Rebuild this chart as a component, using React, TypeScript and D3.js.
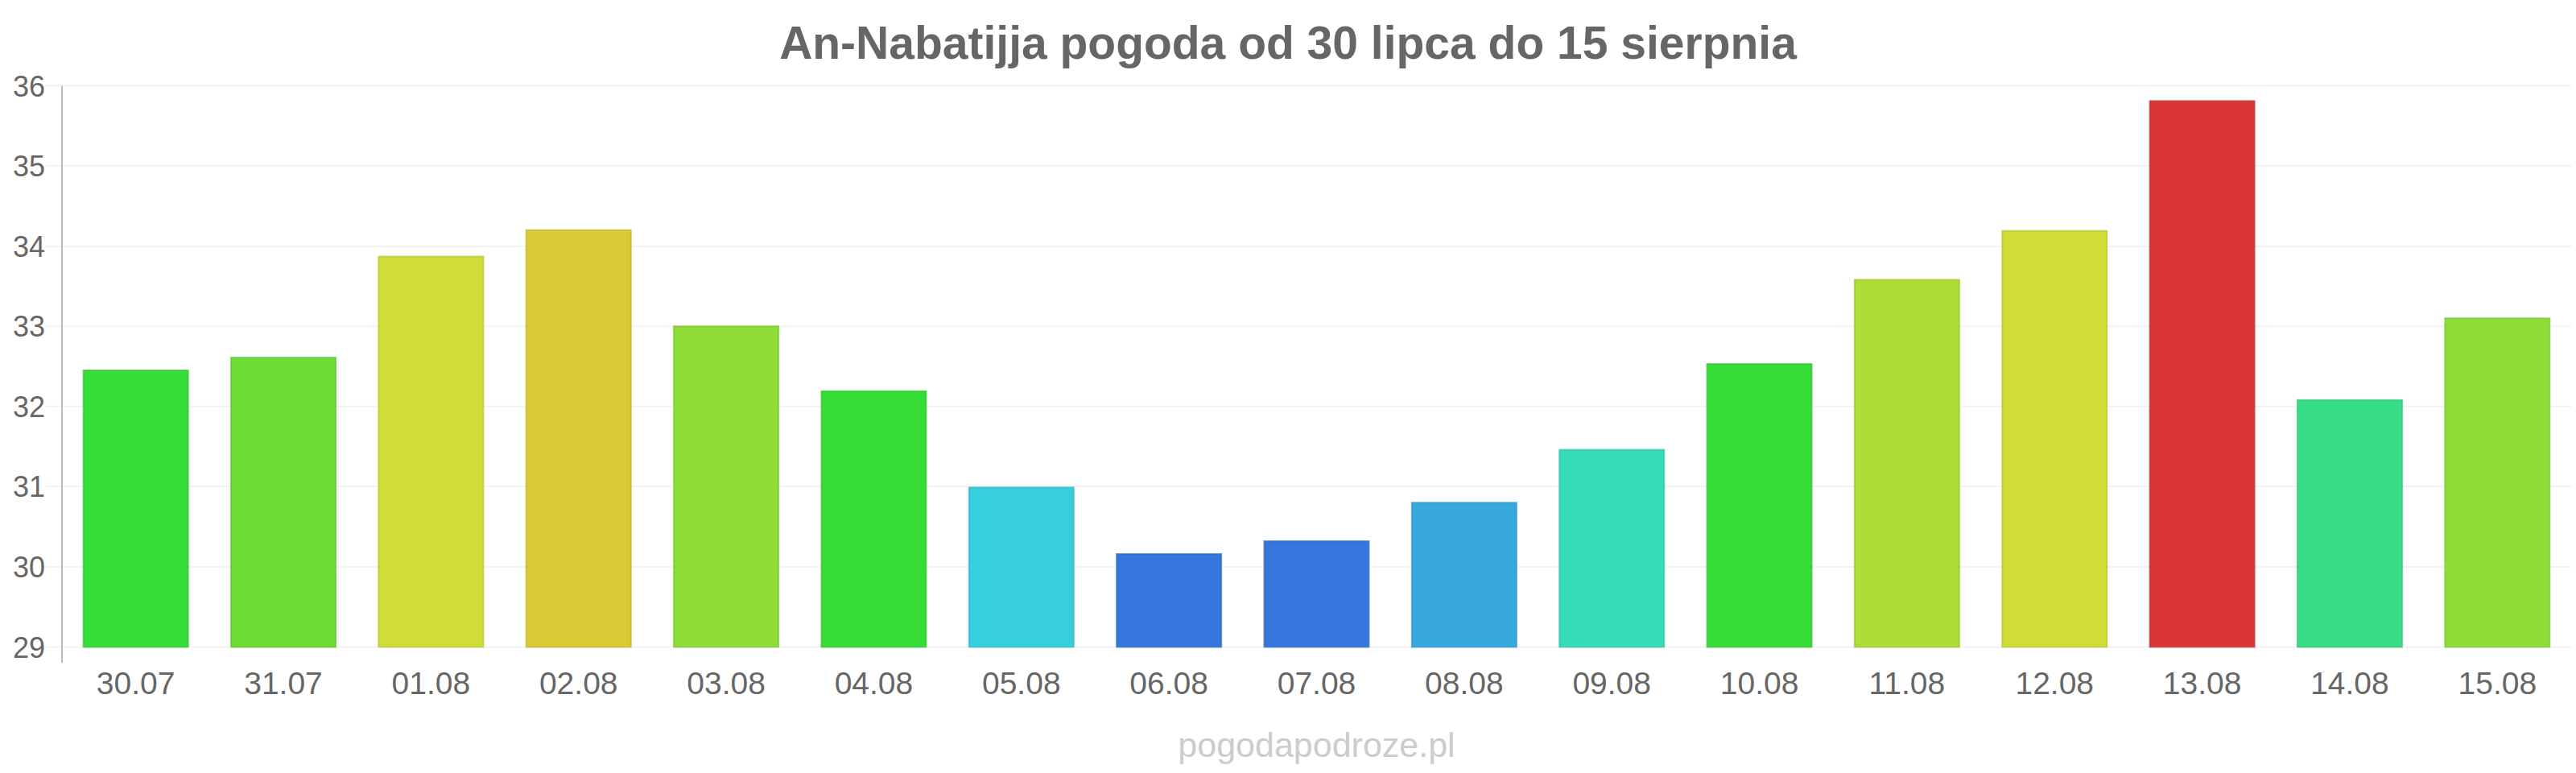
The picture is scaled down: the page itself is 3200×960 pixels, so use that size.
import { useEffect, useRef } from 'react';
import * as d3 from "d3";

const days = ["30.07", "31.07", "01.08", "02.08", "03.08", "04.08", "05.08", "06.08", "07.08", "08.08", "09.08", "10.08", "11.08", "12.08", "13.08", "14.08", "15.08"];
const temps = [32.46, 32.62, 33.88, 34.21, 33.01, 32.2, 31.0, 30.17, 30.33, 30.81, 31.47, 32.54, 33.59, 34.2, 35.82, 32.09, 33.11];
const barColors = ["#36dd36", "#6ddd36", "#cfdd36", "#dbca33", "#8ddd36", "#36dd36", "#36cfdd", "#3677dd", "#3677dd", "#36a8dd", "#36ddba", "#36dd36", "#addd36", "#cfdd36", "#db3636", "#38dd88", "#8ddd36"];
const yTicks = [29, 30, 31, 32, 33, 34, 35, 36];

const title = "An-Nabatijja pogoda od 30 lipca do 15 sierpnia";
const watermark = "pogodapodroze.pl";

export default function App() {
  const chartRef = useRef<SVGSVGElement>(null);

  useEffect(() => {
    if (!chartRef.current) return;
    document.body.style.margin = "0";

    d3.select(chartRef.current).selectAll("*").remove();

    const width = 3200;
    const height = 960;
    const marginLeft = 77;
    const marginRight = 6;
    const plotTop = 106.5;
    const plotBottom = 803.5;

    const x = d3.scaleBand()
      .domain(days)
      .range([marginLeft, width - marginRight])
      .paddingInner(0.28)
      .paddingOuter(0.14);

    const y = d3.scaleLinear()
      .domain([29, 36])
      .range([plotBottom, plotTop]);

    const svg = d3.select(chartRef.current)
      .attr("viewBox", [0, 0, width, height])
      .attr("width", width)
      .attr("height", height)
      .style("font-family", "'Liberation Sans', Arial, sans-serif")
      .style("display", "block");

    svg.append("rect")
      .attr("width", width)
      .attr("height", height)
      .attr("fill", "#ffffff");

    // grid lines
    svg.append("g")
      .selectAll("line")
      .data(yTicks)
      .join("line")
      .attr("x1", 57)
      .attr("x2", width - marginRight)
      .attr("y1", d => y(d))
      .attr("y2", d => y(d))
      .attr("stroke", "#f3f3f3")
      .attr("stroke-width", 2);

    // y labels
    svg.append("g")
      .selectAll("text")
      .data(yTicks)
      .join("text")
      .attr("x", 56)
      .attr("y", d => y(d) + 13)
      .attr("text-anchor", "end")
      .attr("fill", "#666")
      .style("font-size", "36px")
      .text(d => d);

    // bars
    svg.append("g")
      .selectAll("rect")
      .data(days)
      .join("rect")
      .attr("x", d => (x(d) || 0) + 1)
      .attr("y", (d, i) => y(temps[i]) + 1)
      .attr("width", x.bandwidth() - 2)
      .attr("height", (d, i) => y(29) - y(temps[i]) - 1)
      .attr("fill", (d, i) => barColors[i])
      .attr("stroke", (d, i) => d3.color(barColors[i])!.darker(0.35).formatHex())
      .attr("stroke-opacity", 0.7)
      .attr("stroke-width", 2);

    // left axis line
    svg.append("line")
      .attr("x1", marginLeft)
      .attr("x2", marginLeft)
      .attr("y1", plotTop)
      .attr("y2", 823)
      .attr("stroke", "#bbb")
      .attr("stroke-width", 2);

    // x labels
    svg.append("g")
      .selectAll("text")
      .data(days)
      .join("text")
      .attr("x", d => (x(d) || 0) + x.bandwidth() / 2)
      .attr("y", 862)
      .attr("text-anchor", "middle")
      .attr("fill", "#666")
      .style("font-size", "39px")
      .text(d => d);

    svg.append("text")
      .attr("x", width / 2)
      .attr("y", 73)
      .attr("text-anchor", "middle")
      .attr("fill", "#666")
      .style("font-size", "57px")
      .style("font-weight", "bold")
      .text(title);

    svg.append("text")
      .attr("x", (marginLeft + width - marginRight) / 2)
      .attr("y", 940)
      .attr("text-anchor", "middle")
      .attr("fill", "#ccc")
      .style("font-size", "43px")
      .text(watermark);
  }, []);

  return (
    <div>
      <svg ref={chartRef}></svg>
    </div>
  );
}
